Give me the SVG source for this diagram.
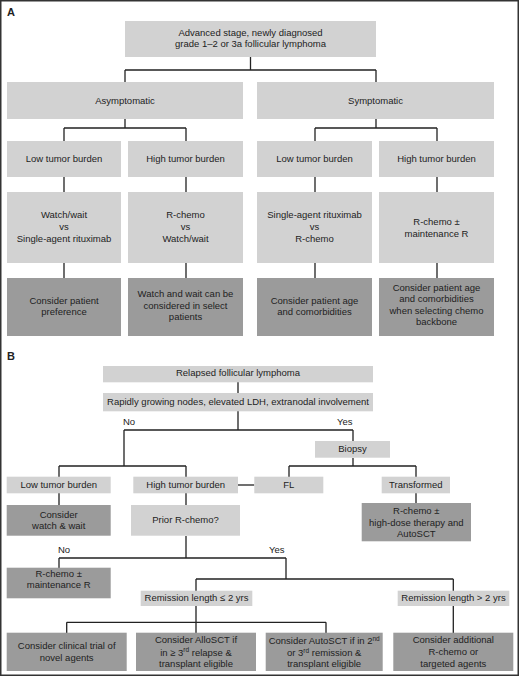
<svg xmlns="http://www.w3.org/2000/svg" width="520" height="678" viewBox="0 0 520 678">
<style>
text{font-family:"Liberation Sans",Arial,sans-serif;font-size:9.5px;fill:#222;text-anchor:middle}
.lbl{font-size:11px;font-weight:bold;text-anchor:start}
.yn{text-anchor:start}
.lt{fill:#d2d2d2}
.dk{fill:#9b9b9b}
.cn{fill:none;stroke:#222;stroke-width:1.3}
.sup{font-size:6.5px}
</style>
<rect x="0.75" y="0.75" width="517.5" height="674.5" fill="#fff" stroke="#333" stroke-width="1.5"/>
<text class="lbl" x="7" y="16">A</text>
<text class="lbl" x="7" y="360">B</text>
<g id="connectors">
<path class="cn" d="M250.5 57V70M125 70H376M125 70V82M376 70V82"/>
<path class="cn" d="M125 119V128M64 128H186M64 128V141M186 128V141"/>
<path class="cn" d="M376 119V128M315 128H437M315 128V141M437 128V141"/>
<path class="cn" d="M64 177V192M186 177V192M315 177V192M437 177V192"/>
<path class="cn" d="M64 263V278M186 263V278M315 263V278M437 263V278"/>
<path class="cn" d="M238 382V393M238 411V430M124 430H353M124 430V466M353 430V441"/>
<path class="cn" d="M59 466H186M59 466V477M186 466V477"/>
<path class="cn" d="M353 458V466M289 466H416M289 466V477M416 466V477"/>
<path class="cn" d="M238 485H254.3"/>
<path class="cn" d="M59 493V505M186 493V505M416 493V503"/>
<path class="cn" d="M186 536V558M59 558H286M59 558V568M286 558V579M196 579H453.3M196 579V591M453.3 579V591"/>
<path class="cn" d="M196 606V622.3M66.7 622.3H326M66.7 622.3V633M326 622.3V633M196 622.3V633M453.3 606V633"/>
</g>
<g id="a_root"><rect class="lt" x="125" y="21" width="251" height="36"/><text x="250.5" y="36.1">Advanced stage, newly diagnosed</text><text x="250.5" y="47.4">grade 1–2 or 3a follicular lymphoma</text></g>
<g id="a_asym"><rect class="lt" x="7" y="82" width="236" height="37"/><text x="125" y="104">Asymptomatic</text></g>
<g id="a_sym"><rect class="lt" x="257" y="82" width="237" height="37"/><text x="375.5" y="104">Symptomatic</text></g>
<g id="a_asym_low"><rect class="lt" x="7" y="141" width="114" height="36"/><text x="64" y="162.4">Low tumor burden</text></g>
<g id="a_asym_high"><rect class="lt" x="128" y="141" width="115" height="36"/><text x="185.5" y="162.4">High tumor burden</text></g>
<g id="a_sym_low"><rect class="lt" x="257" y="141" width="115" height="36"/><text x="314.5" y="162.4">Low tumor burden</text></g>
<g id="a_sym_high"><rect class="lt" x="379" y="141" width="115" height="36"/><text x="436.5" y="162.4">High tumor burden</text></g>
<g id="a_t1"><rect class="lt" x="7" y="192" width="114" height="71"/><text x="64" y="218.4">Watch/wait</text><text x="64" y="230">vs</text><text x="64" y="241.6">Single-agent rituximab</text></g>
<g id="a_t2"><rect class="lt" x="128" y="192" width="115" height="71"/><text x="185.5" y="218.4">R-chemo</text><text x="185.5" y="230">vs</text><text x="185.5" y="241.6">Watch/wait</text></g>
<g id="a_t3"><rect class="lt" x="257" y="192" width="115" height="71"/><text x="314.5" y="218.4">Single-agent rituximab</text><text x="314.5" y="230">vs</text><text x="314.5" y="241.6">R-chemo</text></g>
<g id="a_t4"><rect class="lt" x="379" y="192" width="115" height="71"/><text x="436.5" y="225.1">R-chemo ±</text><text x="436.5" y="236.7">maintenance R</text></g>
<g id="a_c1"><rect class="dk" x="7" y="278" width="114" height="58"/><text x="64" y="304.1">Consider patient</text><text x="64" y="315.4">preference</text></g>
<g id="a_c2"><rect class="dk" x="128" y="278" width="115" height="58"/><text x="185.5" y="297.4">Watch and wait can be</text><text x="185.5" y="309.1">considered in select</text><text x="185.5" y="320.1">patients</text></g>
<g id="a_c3"><rect class="dk" x="257" y="278" width="115" height="58"/><text x="314.5" y="304.1">Consider patient age</text><text x="314.5" y="315.4">and comorbidities</text></g>
<g id="a_c4"><rect class="dk" x="379" y="278" width="115" height="58"/><text x="436.5" y="290.7">Consider patient age</text><text x="436.5" y="302.2">and comorbidities</text><text x="436.5" y="313.6">when selecting chemo</text><text x="436.5" y="325.1">backbone</text></g>
<g id="b_root"><rect class="lt" x="103" y="366" width="270" height="16.3"/><text x="238" y="376.4">Relapsed follicular lymphoma</text></g>
<g id="b_rapid"><rect class="lt" x="103" y="393" width="270" height="18.3"/><text x="238" y="405.4">Rapidly growing nodes, elevated LDH, extranodal involvement</text></g>
<text class="yn" x="123" y="425.4">No</text>
<text class="yn" x="337" y="425.4">Yes</text>
<g id="b_biopsy"><rect class="lt" x="315" y="441" width="75" height="16.7"/><text x="352.5" y="452.4">Biopsy</text></g>
<g id="b_low"><rect class="lt" x="6.7" y="476.7" width="104" height="16.6"/><text x="58.7" y="487.7">Low tumor burden</text></g>
<g id="b_high"><rect class="lt" x="133.3" y="476.7" width="104.7" height="16.6"/><text x="185.7" y="487.7">High tumor burden</text></g>
<g id="b_fl"><rect class="lt" x="254.3" y="476.7" width="69" height="16.6"/><text x="288.8" y="487.7">FL</text></g>
<g id="b_transformed"><rect class="lt" x="381.7" y="476.7" width="68.3" height="16.6"/><text x="415.8" y="487.7">Transformed</text></g>
<g id="b_watch"><rect class="dk" x="6.7" y="505" width="104" height="30.7"/><text x="58.7" y="518.4">Consider</text><text x="58.7" y="529.4">watch &amp; wait</text></g>
<g id="b_prior"><rect class="lt" x="131" y="505" width="109" height="30.7"/><text x="185.5" y="523.4">Prior R-chemo?</text></g>
<g id="b_hdt"><rect class="dk" x="361.7" y="503" width="109.3" height="38.3"/><text x="416.3" y="514.4">R-chemo ±</text><text x="416.3" y="526.1">high-dose therapy and</text><text x="416.3" y="536.7">AutoSCT</text></g>
<text class="yn" x="58" y="552.7">No</text>
<text class="yn" x="269" y="552.7">Yes</text>
<g id="b_rmaint"><rect class="dk" x="6.7" y="567.7" width="104" height="30.6"/><text x="58.7" y="576.7">R-chemo ±</text><text x="58.7" y="588.4">maintenance R</text></g>
<g id="b_rem_short"><rect class="lt" x="140.7" y="590.7" width="111.6" height="15.3"/><text x="196.5" y="601.1">Remission length ≤ 2 yrs</text></g>
<g id="b_rem_long"><rect class="lt" x="397.7" y="590.7" width="111.6" height="15.3"/><text x="453.5" y="601.1">Remission length &gt; 2 yrs</text></g>
<g id="b_trial"><rect class="dk" x="6.7" y="632.7" width="120" height="38.3"/><text x="66.7" y="649.1">Consider clinical trial of</text><text x="66.7" y="660.7">novel agents</text></g>
<g id="b_allo"><rect class="dk" x="136" y="632.7" width="120" height="38.3"/><text x="196" y="643.4">Consider AlloSCT if</text><text x="196" y="655.7">in ≥ 3<tspan class="sup" dy="-3.5">rd</tspan><tspan dy="3.5"> relapse &amp;</tspan></text><text x="196" y="666.7">transplant eligible</text></g>
<g id="b_auto"><rect class="dk" x="265.7" y="632.7" width="117" height="38.3"/><text x="324.2" y="644.4">Consider AutoSCT if in 2<tspan class="sup" dy="-3.5">nd</tspan></text><text x="324.2" y="656.1">or 3<tspan class="sup" dy="-3.5">rd</tspan><tspan dy="3.5"> remission &amp;</tspan></text><text x="324.2" y="666.7">transplant eligible</text></g>
<g id="b_additional"><rect class="dk" x="393.3" y="632.7" width="120" height="38.3"/><text x="453.3" y="643.4">Consider additional</text><text x="453.3" y="655.1">R-chemo or</text><text x="453.3" y="666.7">targeted agents</text></g>
</svg>
